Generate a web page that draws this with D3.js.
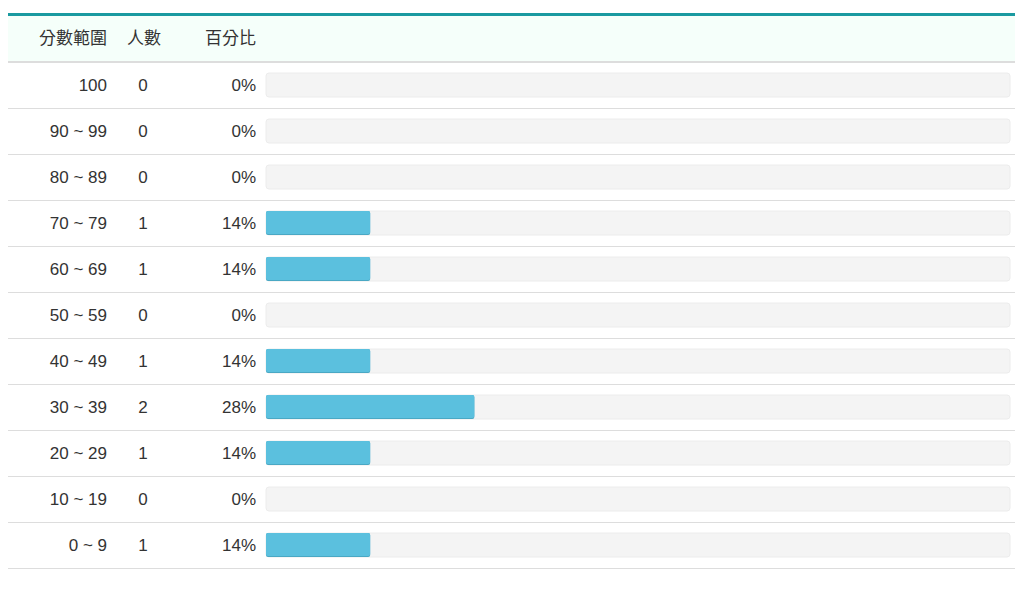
<!DOCTYPE html>
<html>
<head>
<meta charset="utf-8">
<script src="https://cdn.jsdelivr.net/npm/d3@7"></script>
<style>
  body { margin: 0; background: #fff; }
  text { font-family: "Liberation Sans", Arial, "Noto Sans CJK TC", sans-serif; font-size: 17px; fill: #333; }
</style>
</head>
<body>
<svg width="1032" height="594"></svg>
<script>
var ranges = ["100", "90 ~ 99", "80 ~ 89", "70 ~ 79", "60 ~ 69", "50 ~ 59", "40 ~ 49", "30 ~ 39", "20 ~ 29", "10 ~ 19", "0 ~ 9"];
var counts = [0, 0, 0, 1, 1, 0, 1, 2, 1, 0, 1];
var percents = [0, 0, 0, 14, 14, 0, 14, 28, 14, 0, 14];
var headers = ["分數範圍", "人數", "百分比"];

var svg = d3.select("svg");
var left = 8, right = 1015;
var bar_color = "#5bc0de";
var track_color = "#f4f4f4";

var y = d3.scaleBand().domain(ranges).range([63, 569]).padding(0);
var x = d3.scaleLinear().domain([0, 100]).range([266, 1010]);

// header
svg.append("rect").attr("x", left).attr("y", 13).attr("width", right - left).attr("height", 3).attr("fill", "#1a9aa0");
svg.append("rect").attr("x", left).attr("y", 16).attr("width", right - left).attr("height", 45).attr("fill", "#f5fffa");
svg.append("rect").attr("x", left).attr("y", 61).attr("width", right - left).attr("height", 2).attr("fill", "#dddddd");

svg.append("text").attr("x", 107).attr("y", 38).attr("dy", "0.35em").attr("text-anchor", "end").text(headers[0]);
svg.append("text").attr("x", 144).attr("y", 38).attr("dy", "0.35em").attr("text-anchor", "middle").text(headers[1]);
svg.append("text").attr("x", 256).attr("y", 38).attr("dy", "0.35em").attr("text-anchor", "end").text(headers[2]);

var rows = svg.append("g").selectAll("g")
  .data(ranges)
  .enter()
  .append("g")
  .attr("transform", function(d) { return "translate(0," + y(d) + ")"; });

// row separators
rows.append("rect")
    .attr("x", left).attr("y", y.bandwidth() - 1)
    .attr("width", right - left).attr("height", 1)
    .attr("fill", "#dddddd");

var mid = 22;

rows.append("text")
    .attr("x", 107).attr("y", mid).attr("dy", "0.35em")
    .attr("text-anchor", "end")
    .text(function(d) { return d; });

rows.append("text")
    .attr("x", 143).attr("y", mid).attr("dy", "0.35em")
    .attr("text-anchor", "middle")
    .text(function(d, i) { return counts[i]; });

rows.append("text")
    .attr("x", 256).attr("y", mid).attr("dy", "0.35em")
    .attr("text-anchor", "end")
    .text(function(d, i) { return percents[i] + "%"; });

// progress track
rows.append("rect")
    .attr("x", x(0)).attr("y", 10)
    .attr("width", x(100) - x(0)).attr("height", 24)
    .attr("rx", 3)
    .attr("fill", track_color)
    .attr("stroke", "#ececec").attr("stroke-width", 1);

// bar with a darker bottom edge
rows.filter(function(d, i) { return percents[i] > 0; })
    .append("rect")
    .attr("x", x(0)).attr("y", 10)
    .attr("width", function(d) { return x(percents[ranges.indexOf(d)]) - x(0); })
    .attr("height", 24)
    .attr("rx", 2)
    .attr("fill", "#4aa8c4");
rows.filter(function(d, i) { return percents[i] > 0; })
    .append("rect")
    .attr("x", x(0)).attr("y", 10)
    .attr("width", function(d) { return x(percents[ranges.indexOf(d)]) - x(0); })
    .attr("height", 23)
    .attr("rx", 2)
    .attr("fill", bar_color);
</script>
</body>
</html>
